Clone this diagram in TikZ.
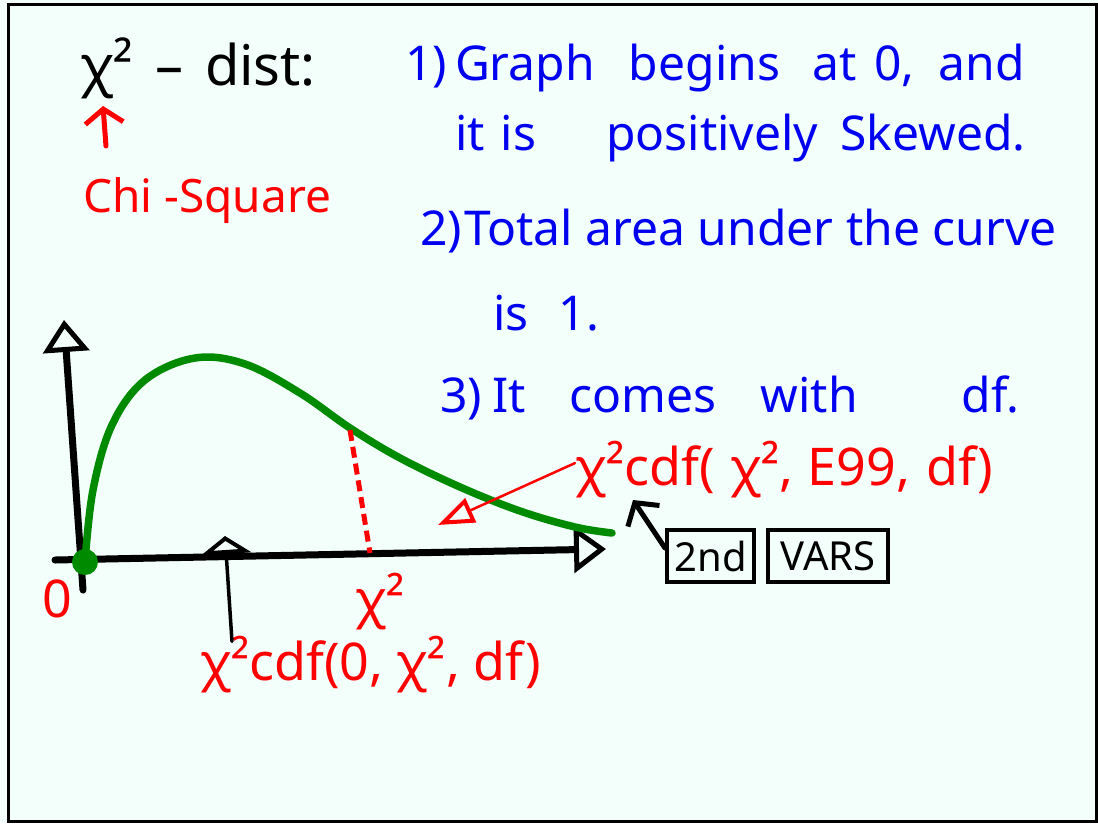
\documentclass[tikz,border=0pt]{standalone}
\usepackage{fontspec}
\setmainfont{Noto Sans}
\usetikzlibrary{arrows.meta,positioning,calc}
\definecolor{board}{HTML}{F2FFFB}
\definecolor{inkred}{HTML}{FF0000}
\definecolor{inkblue}{HTML}{0000F0}
\definecolor{inkgreen}{HTML}{008A00}

\begin{document}
\begin{tikzpicture}[x=1pt,y=-1pt,>=Latex,font=\fontsize{48}{54}\selectfont]
\tikzset{note/.style={anchor=base west,inner sep=0pt,color=inkblue}, rednote/.style={note,color=inkred,font=\fontsize{52}{58}\selectfont}, key/.style={draw,line width=4pt,inner sep=2pt,minimum height=52pt,font=\fontsize{40}{44}\selectfont}, axis/.style={line width=7pt,line cap=round,-{Triangle[open,length=32pt,width=46pt,line width=5pt]}}, flow/.style={line width=3.5pt,line cap=round}}
\useasboundingbox (0,0) rectangle (1098,823);
\fill[board] (0,0) rectangle (1098,823);
\draw[line width=3pt] (8,4) rectangle (1096,821);
% title and notes
\node[note,color=black,font=\fontsize{56}{60}\selectfont] (title) at (80,85) {χ²\hspace{22pt}–\hspace{22pt}dist:};
\node[note,color=inkred,font=\fontsize{46}{52}\selectfont] (chi) at (83,212) {Chi -Square};
\coordinate (chifoot) at (106,146);
\coordinate (chiup) at (103,106);
\draw[flow,line width=5pt,color=inkred,-{Straight Barb[length=14pt,width=38pt,line width=5pt]}] (chifoot) -- (chiup);
\node[note] (one) at (405,80) {1)\hspace{8pt}Graph\hspace{34pt}begins\hspace{32pt}at\hspace{18pt}0,\hspace{24pt}and};
\node[note] (onb) at (455,150) {it\hspace{16pt}is\hspace{70pt}positively\hspace{22pt}Skewed.};
\node[note] (two) at (420,245) {2)\hspace{2pt}Total area under the curve};
\node[note] (twb) at (493,330) {is\hspace{30pt}1.};
\node[note] (three) at (440,412) {3)\hspace{10pt}It\hspace{44pt}comes\hspace{44pt}with\hspace{104pt}df.};
% axes and curve
\coordinate (origin) at (85,562);
\coordinate (ybot) at (83,590);
\coordinate (ytop) at (64,320);
\coordinate (xbeg) at (55,560);
\coordinate (xend) at (606,549);
\draw[axis] (ybot) -- (ytop);
\draw[axis] (xbeg) -- (xend);
\draw[inkgreen,line width=7.5pt,line cap=round] plot[smooth,tension=0.6] coordinates {(85,562) (93,490) (112,425) (145,380) (195,358) (245,364) (300,393) (350,428) (400,458) (460,487) (520,511) (575,527) (612,533)};
\fill[inkgreen] (origin) circle (13);
\coordinate (cut) at (350,430);
\coordinate (cutfoot) at (370,553);
\draw[inkred,line width=5pt,dash pattern=on 11pt off 6pt] (cut) -- (cutfoot);
\node[rednote] (zero) at (42,617) {0};
\node[rednote] (xsq) at (355,617) {χ²};
% lower tail
\node[rednote] (lower) at (200,680) {χ²cdf(0, χ², df)};
\coordinate (lowtip) at (225,536);
\draw[flow,-{Triangle[open,length=18pt,width=50pt,line width=4pt]}] ([xshift=32pt,yshift=-6pt]lower.north west) -- (lowtip);
% upper tail
\node[rednote] (upper) at (575,485) {χ²cdf(\hspace{16pt}χ²,\hspace{14pt}E99,\hspace{16pt}df)};
\coordinate (uptip) at (438,525);
\draw[flow,color=inkred,line width=2.5pt,-{Triangle[open,length=36pt,width=26pt,line width=4pt]}] ([yshift=6pt]upper.west) -- (uptip);
% calculator keys
\node[key,anchor=north west,minimum width=87pt] (second) at (665,528) {2nd};
\node[key,minimum width=120pt,right=10pt of second] (vars) {VARS};
\coordinate (keytip) at (633,500);
\draw[flow,line width=5pt,-{Straight Barb[length=16pt,width=38pt,line width=5pt]}] ([yshift=8pt]second.west) -- (keytip);
\end{tikzpicture}
\end{document}
